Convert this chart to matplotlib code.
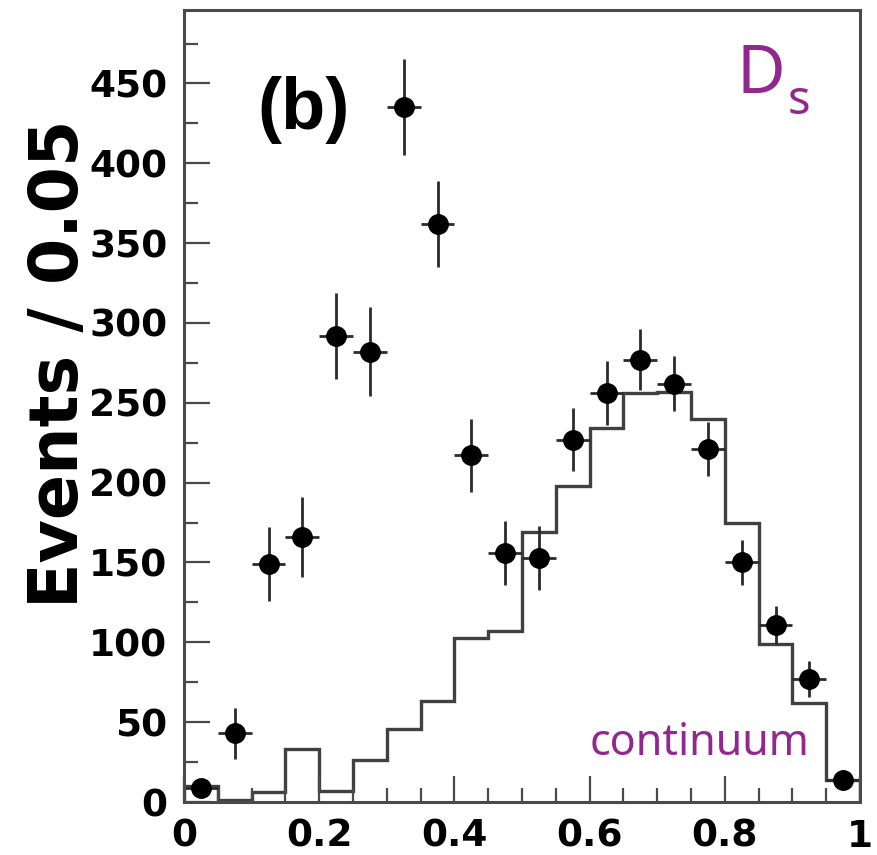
import numpy as np
import matplotlib
matplotlib.use("Agg")
import matplotlib.pyplot as plt
from matplotlib.ticker import MultipleLocator

# Data
bin_edges = np.linspace(0, 1, 21)
bin_centers = [0.025, 0.075, 0.125, 0.175, 0.225, 0.275, 0.325, 0.375, 0.425, 0.475,
               0.525, 0.575, 0.625, 0.675, 0.725, 0.775, 0.825, 0.875, 0.925, 0.975]
data_counts = [9, 43, 149, 166, 292, 282, 435, 362, 217, 156,
               153, 227, 256, 277, 262, 221, 150, 111, 77, 14]
data_errors = [6, 16, 23, 25, 27, 28, 30, 27, 23, 20,
               20, 20, 20, 19, 17, 17, 14, 12, 11, 5]
continuum = [10, 1.5, 6, 33, 7, 26, 46, 63, 103, 107,
             169, 198, 234, 256, 257, 240, 175, 99, 62, 14]
xtick_vals = [0, 0.2, 0.4, 0.6, 0.8, 1.0]
xtick_labels = ["0", "0.2", "0.4", "0.6", "0.8", "1"]
ytick_vals = [0, 50, 100, 150, 200, 250, 300, 350, 400, 450]

W, H = 877, 855
fig = plt.figure(figsize=(W / 100, H / 100), dpi=100)
ax = fig.add_axes([184 / W, 1 - 802 / H, 676 / W, 792 / H])

ax.stairs(continuum, bin_edges, color="#404040", linewidth=2.4)
ax.errorbar(bin_centers, data_counts, yerr=data_errors, xerr=0.025, fmt="o",
            color="black", ecolor="#2a2a2a", elinewidth=2.0, markersize=14,
            capsize=0)

ax.set_xlim(0, 1)
ax.set_ylim(0, 496)

ax.xaxis.set_minor_locator(MultipleLocator(0.05))
ax.yaxis.set_minor_locator(MultipleLocator(25))
ax.set_xticks(xtick_vals)
ax.set_xticklabels(xtick_labels)
ax.set_yticks(ytick_vals)

for s in ax.spines.values():
    s.set_linewidth(2.2)
    s.set_color("#4a4a4a")

ax.tick_params(which="major", direction="in", length=19, width=1.6, color="#4a4a4a",
               top=False, right=False)
ax.tick_params(which="minor", direction="in", length=10, width=1.6, color="#4a4a4a",
               top=False, right=False)
ax.tick_params(axis="y", which="major", pad=12)
ax.tick_params(axis="x", which="major", pad=12)
for lab in ax.get_xticklabels() + ax.get_yticklabels():
    lab.set_fontfamily("DejaVu Sans")
    lab.set_fontweight("bold")
    lab.set_fontsize(27)

ax.set_ylabel("Events / 0.05", fontfamily="DejaVu Sans", fontweight="bold",
              fontsize=48)
ax.yaxis.set_label_coords(-0.136, 0.553)

ax.text(0.1775, 0.874, "(b)", transform=ax.transAxes, fontfamily="Liberation Sans",
        fontweight="bold", fontsize=52, ha="center", va="center")

purple = "#92278F"
ax.text(0.818, 0.918, "D", transform=ax.transAxes, fontfamily="Noto Sans",
        fontsize=48, color=purple, ha="left", va="center")
ax.text(0.893, 0.884, "s", transform=ax.transAxes, fontfamily="Noto Sans",
        fontsize=34, color=purple, ha="left", va="center")
ax.text(0.6, 0.073, "continuum", transform=ax.transAxes, fontfamily="Noto Sans",
        fontsize=31, color=purple, ha="left", va="center")

fig.savefig("out.png", dpi=100)
